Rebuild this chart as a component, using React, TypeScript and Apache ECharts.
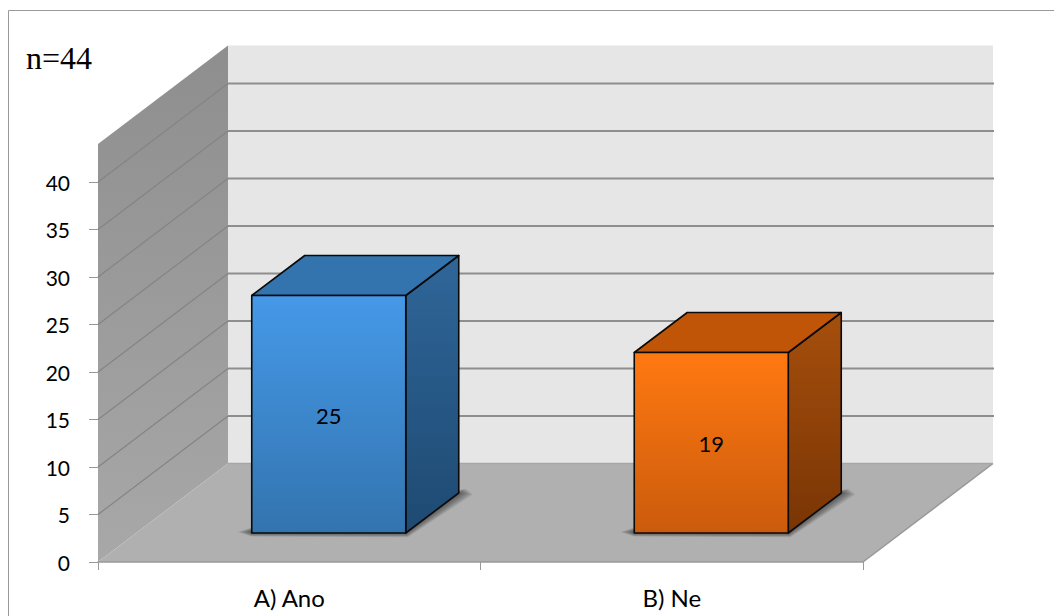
import React, { useEffect, useRef } from "react";
import * as echarts from "echarts";

const categories = ["A) Ano", "B) Ne"];
const answers = [25, 19];
const tickValues = [0, 5, 10, 15, 20, 25, 30, 35, 40];
const axisMax = 44;
const sampleNote = "n=44";

const frontFaces = [
  ["#4599E8", "#3374AF"],
  ["#FF7911", "#CB5B0C"],
];
const sideFaces = [
  ["#2F6699", "#1E4A72"],
  ["#A64F0C", "#793505"],
];
const topFaces = ["#3373AE", "#C05508"];

// Oblique projection of the 3D box: depth of the whole plot and of one bar.
const WALL_DX = 130;
const WALL_DY = -98.5;
const BAR_DX = 53;
const BAR_DY = -40;
const BAR_SHIFT_X = 39.5;
const BAR_SHIFT_Y = -29;
const BAR_WIDTH = 154;
const SHADOW_STEPS = [7, 6, 5, 4, 3, 2, 1];

const FONT = "Lato";

const vGrad = (c0: string, c1: string) =>
  new echarts.graphic.LinearGradient(0, 0, 0, 1, [
    { offset: 0, color: c0 },
    { offset: 1, color: c1 },
  ]);

const poly = (points: number[][], style: any) => ({
  type: "polygon",
  shape: { points },
  style,
});

// Left wall, back wall and floor, spanned from the axis corners.
function renderRoom(params: any, api: any) {
  const [, y0] = api.coord([0, 0]);
  const cs = params.coordSys;
  const x1 = cs.x + cs.width;
  const top = cs.y;
  const xa = cs.x;
  return {
    type: "group",
    children: [
      poly(
        [
          [xa + WALL_DX, top + WALL_DY],
          [x1 + WALL_DX, top + WALL_DY],
          [x1 + WALL_DX, y0 + WALL_DY],
          [xa + WALL_DX, y0 + WALL_DY],
        ],
        { fill: "#E6E6E6" },
      ),
      poly(
        [
          [xa, top],
          [xa + WALL_DX, top + WALL_DY],
          [xa + WALL_DX, y0 + WALL_DY],
          [xa, y0],
        ],
        { fill: vGrad("#8E8E8E", "#A8A8A8") },
      ),
      poly(
        [
          [xa, y0],
          [x1, y0],
          [x1 + WALL_DX, y0 + WALL_DY],
          [xa + WALL_DX, y0 + WALL_DY],
        ],
        { fill: "#B0B0B0" },
      ),
      {
        type: "line",
        shape: { x1: x1, y1: y0, x2: x1 + WALL_DX, y2: y0 + WALL_DY },
        style: { stroke: "#989898", lineWidth: 1.5 },
      },
      {
        type: "line",
        shape: { x1: xa + WALL_DX, y1: y0 + WALL_DY, x2: x1 + WALL_DX, y2: y0 + WALL_DY },
        style: { stroke: "#A6A6A6", lineWidth: 1.5 },
      },
    ],
  };
}

// One gridline per tick, folded across the left wall and the back wall.
function renderGridline(params: any, api: any) {
  const value = api.value(0);
  const [, y] = api.coord([0, value]);
  const cs = params.coordSys;
  const xa = cs.x;
  const x1 = cs.x + cs.width;
  return {
    type: "group",
    children: [
      {
        type: "line",
        shape: { x1: xa, y1: y, x2: xa + WALL_DX, y2: y + WALL_DY },
        style: { stroke: "#848484", lineWidth: 1.2 },
      },
      {
        type: "line",
        shape: { x1: xa + WALL_DX, y1: y + WALL_DY, x2: x1 + WALL_DX + 1, y2: y + WALL_DY },
        style: { stroke: "#8E8E8E", lineWidth: 2 },
      },
    ],
  };
}

// A box: soft floor shadow built from stacked translucent layers, then
// side, top and front faces with its value.
function renderBar(params: any, api: any) {
  const i = params.dataIndex;
  const [cx, yTop0] = api.coord([api.value(0), api.value(1)]);
  const [, yBase0] = api.coord([api.value(0), 0]);
  const left = cx + BAR_SHIFT_X - BAR_WIDTH / 2;
  const right = left + BAR_WIDTH;
  const yTop = yTop0 + BAR_SHIFT_Y;
  const yBase = yBase0 + BAR_SHIFT_Y;
  const edge = { stroke: "#0A0A0A", lineWidth: 1.6, lineJoin: "round" };
  const shadow = SHADOW_STEPS.map((k) =>
    poly(
      [
        [left - 2 * k, yBase - 1],
        [left, yBase + 0.5 * k],
        [right + 0.3 * k, yBase + 0.6 * k],
        [right + BAR_DX + 2 * k, yBase + BAR_DY + 0.2 * k],
        [right + BAR_DX + k, yBase + BAR_DY - 0.6 * k],
        [left, yBase - 2 - 0.5 * k],
      ],
      { fill: "rgba(30,30,30,0.1)" },
    ),
  );
  return {
    type: "group",
    children: [
      ...shadow,
      poly(
        [
          [right, yTop],
          [right + BAR_DX, yTop + BAR_DY],
          [right + BAR_DX, yBase + BAR_DY],
          [right, yBase],
        ],
        { fill: vGrad(sideFaces[i][0], sideFaces[i][1]), ...edge },
      ),
      poly(
        [
          [left, yTop],
          [left + BAR_DX, yTop + BAR_DY],
          [right + BAR_DX, yTop + BAR_DY],
          [right, yTop],
        ],
        { fill: topFaces[i], ...edge },
      ),
      poly(
        [
          [left, yTop],
          [right, yTop],
          [right, yBase],
          [left, yBase],
        ],
        { fill: vGrad(frontFaces[i][0], frontFaces[i][1]), ...edge },
      ),
      {
        type: "text",
        x: (left + right) / 2,
        y: (yTop + yBase) / 2 + 1,
        style: {
          text: String(api.value(1)),
          fill: "#000",
          font: `22px ${FONT}`,
          align: "center",
          verticalAlign: "middle",
        },
      },
    ],
  };
}

export default function App() {
  const ref = useRef<HTMLDivElement>(null);

  useEffect(() => {
    const chart = echarts.init(ref.current!, null, { renderer: "svg" });
    chart.setOption({
      animation: false,
      backgroundColor: "#fff",
      grid: { left: 98, right: 191, top: 144, bottom: 54 },
      xAxis: {
        type: "category",
        data: categories,
        z: 5,
        axisLine: { lineStyle: { color: "#999", width: 1.5 } },
        axisTick: { show: true, length: 8, lineStyle: { color: "#999" } },
        axisLabel: { color: "#000", fontFamily: FONT, fontSize: 24, margin: 23 },
        splitLine: { show: false },
      },
      yAxis: {
        type: "value",
        min: 0,
        max: axisMax,
        interval: 5,
        axisLine: { show: false },
        axisTick: {
          show: true,
          length: 9,
          customValues: tickValues,
          lineStyle: { color: "#999" },
        },
        axisLabel: {
          color: "#000",
          fontFamily: FONT,
          fontSize: 21,
          margin: 28,
          customValues: tickValues,
        },
        splitLine: { show: false },
      },
      series: [
        {
          type: "custom",
          coordinateSystem: "cartesian2d",
          clip: false,
          silent: true,
          data: [[0]],
          encode: { y: 0 },
          renderItem: renderRoom,
          z: 1,
        },
        {
          type: "custom",
          coordinateSystem: "cartesian2d",
          clip: false,
          silent: true,
          data: tickValues.slice(1).map((v) => [v]),
          encode: { y: 0 },
          renderItem: renderGridline,
          z: 2,
        },
        {
          type: "custom",
          coordinateSystem: "cartesian2d",
          clip: false,
          silent: true,
          data: answers.map((v, i) => [i, v]),
          encode: { x: 0, y: 1 },
          renderItem: renderBar,
          z: 3,
        },
      ],
      graphic: [
        {
          type: "polyline",
          silent: true,
          shape: { points: [[8.5, 616], [8.5, 10.5], [1054, 10.5]] },
          style: { fill: "none", stroke: "#999", lineWidth: 1 },
        },
        {
          type: "text",
          x: 26,
          y: 42,
          style: {
            text: sampleNote,
            fill: "#000",
            font: '32px "Liberation Serif"',
          },
        },
      ],
    });
    return () => chart.dispose();
  }, []);

  return (
    <div
      ref={ref}
      style={{ position: "fixed", left: 0, top: 0, width: 1054, height: 616 }}
    />
  );
}
